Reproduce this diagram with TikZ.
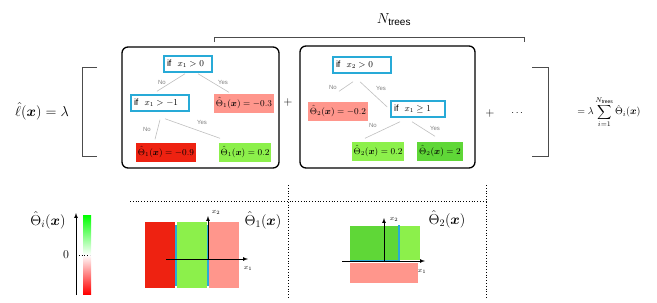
\documentclass[tikz,border=0pt]{standalone}
\usepackage{amsmath, amssymb}
\usepackage{fontspec}
\setsansfont{Liberation Sans}
\usepackage{tikz}

\definecolor{cyanb}{RGB}{40,170,215}
\definecolor{redc}{RGB}{238,34,17}
\definecolor{salmon}{RGB}{255,150,140}
\definecolor{lgreen}{RGB}{140,240,75}
\definecolor{dgreen}{RGB}{95,215,55}

\newcommand{\thetahat}[1]{\hat{\Theta}_{#1}(\boldsymbol{x})}

\tikzset{
  cond/.style={draw=cyanb, line width=1.5pt, fill=white, inner xsep=3pt, inner ysep=1.5pt,
    minimum height=16pt, align=left, font=\small},
  leaf/.style={inner xsep=2pt, minimum height=19pt, font=\small},
  edge/.style={draw=black!25, line width=0.6pt},
  choice/.style={font=\sffamily\fontsize{6}{7}\selectfont, text=black!50},
  treebox/.style={rounded corners=6pt, line width=1.3pt},
  brk/.style={draw=black!70, line width=1pt},
  sep/.style={dotted, line width=0.8pt},
  axis/.style={-latex, line width=0.7pt},
}

\begin{document}
\begin{tikzpicture}[x=1pt, y=-1pt]
  \useasboundingbox (0,0) rectangle (657,303);

  % Sum over trees
  \node (lhs) at (42,111) {\Large $\hat{\ell}(\boldsymbol{x}) = \lambda$};
  \draw[brk] (97,67) -- (82,67) -- (82,156) -- (97,156);
  \draw[brk] (532,67) -- (548,67) -- (548,156) -- (532,156);
  \draw[brk] (214,42) -- (214,37) -- (524,37) -- (524,42);
  \node (ntrees) at (394,20) {\Large $N_{\textsf{trees}}$};

  % Tree 1
  \draw[treebox] (122,47) rectangle (279,168);
  \node[cond, text width=42pt] (c1) at (188,64) {\textsf{if}\ \ $x_1>0$};
  \node[cond, text width=52pt] (c2) at (160,103) {\textsf{if}\ \ $x_1>-1$};
  \node[leaf, fill=salmon] (l1) at (244,103) {$\thetahat{1} = -0.3$};
  \node[leaf, fill=redc] (l2) at (166,152) {$\thetahat{1} = -0.9$};
  \node[leaf, fill=lgreen] (l3) at (245,152) {$\thetahat{1} = 0.2$};
  \draw[edge] ([shift={(-3,1)}]c1.south) -- ([shift={(-3,-3)}]c2.north);
  \draw[edge] ([shift={(10,1)}]c1.south) -- ([shift={(-15,-1)}]l1.north);
  \draw[edge] ([shift={(0,8)}]c2.south) -- ([shift={(-11,-3)}]l2.north);
  \draw[edge] ([shift={(5,7)}]c2.south) -- ([shift={(-25,-4)}]l3.north);
  \node[choice] (n1) at (162,82) {No};
  \node[choice] (y1) at (223,82) {Yes};
  \node[choice] (n2) at (147,129) {No};
  \node[choice] (y2) at (202,122) {Yes};

  \node[font=\large] (plus1) at (288,102) {$+$};

  % Tree 2
  \draw[treebox] (300,46) rectangle (475,168);
  \node[cond, text width=52pt] (d1) at (362,65) {\textsf{if}\ \ $x_2>0$};
  \node[leaf, fill=salmon] (m1) at (338,111) {$\thetahat{2} = -0.2$};
  \node[cond, text width=48pt] (d2) at (418,109) {\textsf{if}\ \ $x_1\geq 1$};
  \node[leaf, fill=lgreen] (m2) at (378,151) {$\thetahat{2} = 0.2$};
  \node[leaf, fill=dgreen] (m3) at (440,151) {$\thetahat{2} = 2$};
  \draw[edge] ([shift={(-9,8)}]d1.south) -- ([shift={(1,-10)}]m1.north);
  \draw[edge] ([shift={(-2,8)}]d1.south) -- ([shift={(-3,-2)}]d2.west);
  \draw[edge] ([shift={(-18,4)}]d2.south) -- ([shift={(-13,-3)}]m2.north);
  \draw[edge] ([shift={(-6,4)}]d2.south) -- ([shift={(-5,-5)}]m3.north);
  \node[choice] (n3) at (333,87) {No};
  \node[choice] (y3) at (381,88) {Yes};
  \node[choice] (n4) at (373,125) {No};
  \node[choice] (y4) at (435,128) {Yes};

  \node[font=\large] (plus2) at (490,113) {$+$};
  \node (dots) at (518,113) {$\cdots$};
  \node (rhs) at (609,112) {$\displaystyle = \lambda \sum_{i=1}^{N_{\textsf{trees}}} \thetahat{i}$};

  % Separators
  \draw[sep] (130,201) -- (488,201);
  \draw[sep] (288,185) -- (288,298);
  \draw[sep] (486,185) -- (486,298);

  % Colour scale
  \node (scalelab) at (48,220) {\Large $\thetahat{i}$};
  \shade[top color=green, bottom color=white] (83,215) rectangle (91,255);
  \shade[top color=white, bottom color=red] (83,255) rectangle (91,294);
  \draw[axis] (76,295) -- (76,213);
  \draw[dotted, line width=0.8pt] (76,255) -- (90,255);
  \node[font=\large] (zero) at (66,255) {$0$};

  % Partition of tree 1
  \fill[redc] (145,222) rectangle (175,288);
  \fill[lgreen] (177,222) rectangle (207,288);
  \fill[salmon] (209,222) rectangle (239,288);
  \draw[cyanb, line width=1.5pt] (176,225) -- (176,286);
  \draw[cyanb, line width=1.5pt] (208,225) -- (208,286);
  \draw[axis] (166,259) -- (248,259);
  \draw[axis] (208,259) -- (208,216);
  \node[font=\scriptsize] (x1a) at (248,268) {$x_1$};
  \node[font=\scriptsize] (x2a) at (216,212) {$x_2$};
  \node (t1) at (263,220) {\Large $\thetahat{1}$};

  % Partition of tree 2
  \fill[dgreen] (350,226) rectangle (399,261);
  \fill[lgreen] (400,226) rectangle (420,260);
  \fill[salmon] (350,263) rectangle (418,283);
  \draw[cyanb, line width=1.5pt] (350,261) -- (400,261);
  \draw[cyanb, line width=1.5pt] (399,225) -- (399,262);
  \draw[axis] (342,261) -- (425,261);
  \draw[axis] (384,261) -- (384,218);
  \node[font=\scriptsize] (x1b) at (422,271) {$x_1$};
  \node[font=\scriptsize] (x2b) at (394,219) {$x_2$};
  \node (t2) at (447,219) {\Large $\thetahat{2}$};
\end{tikzpicture}
\end{document}
